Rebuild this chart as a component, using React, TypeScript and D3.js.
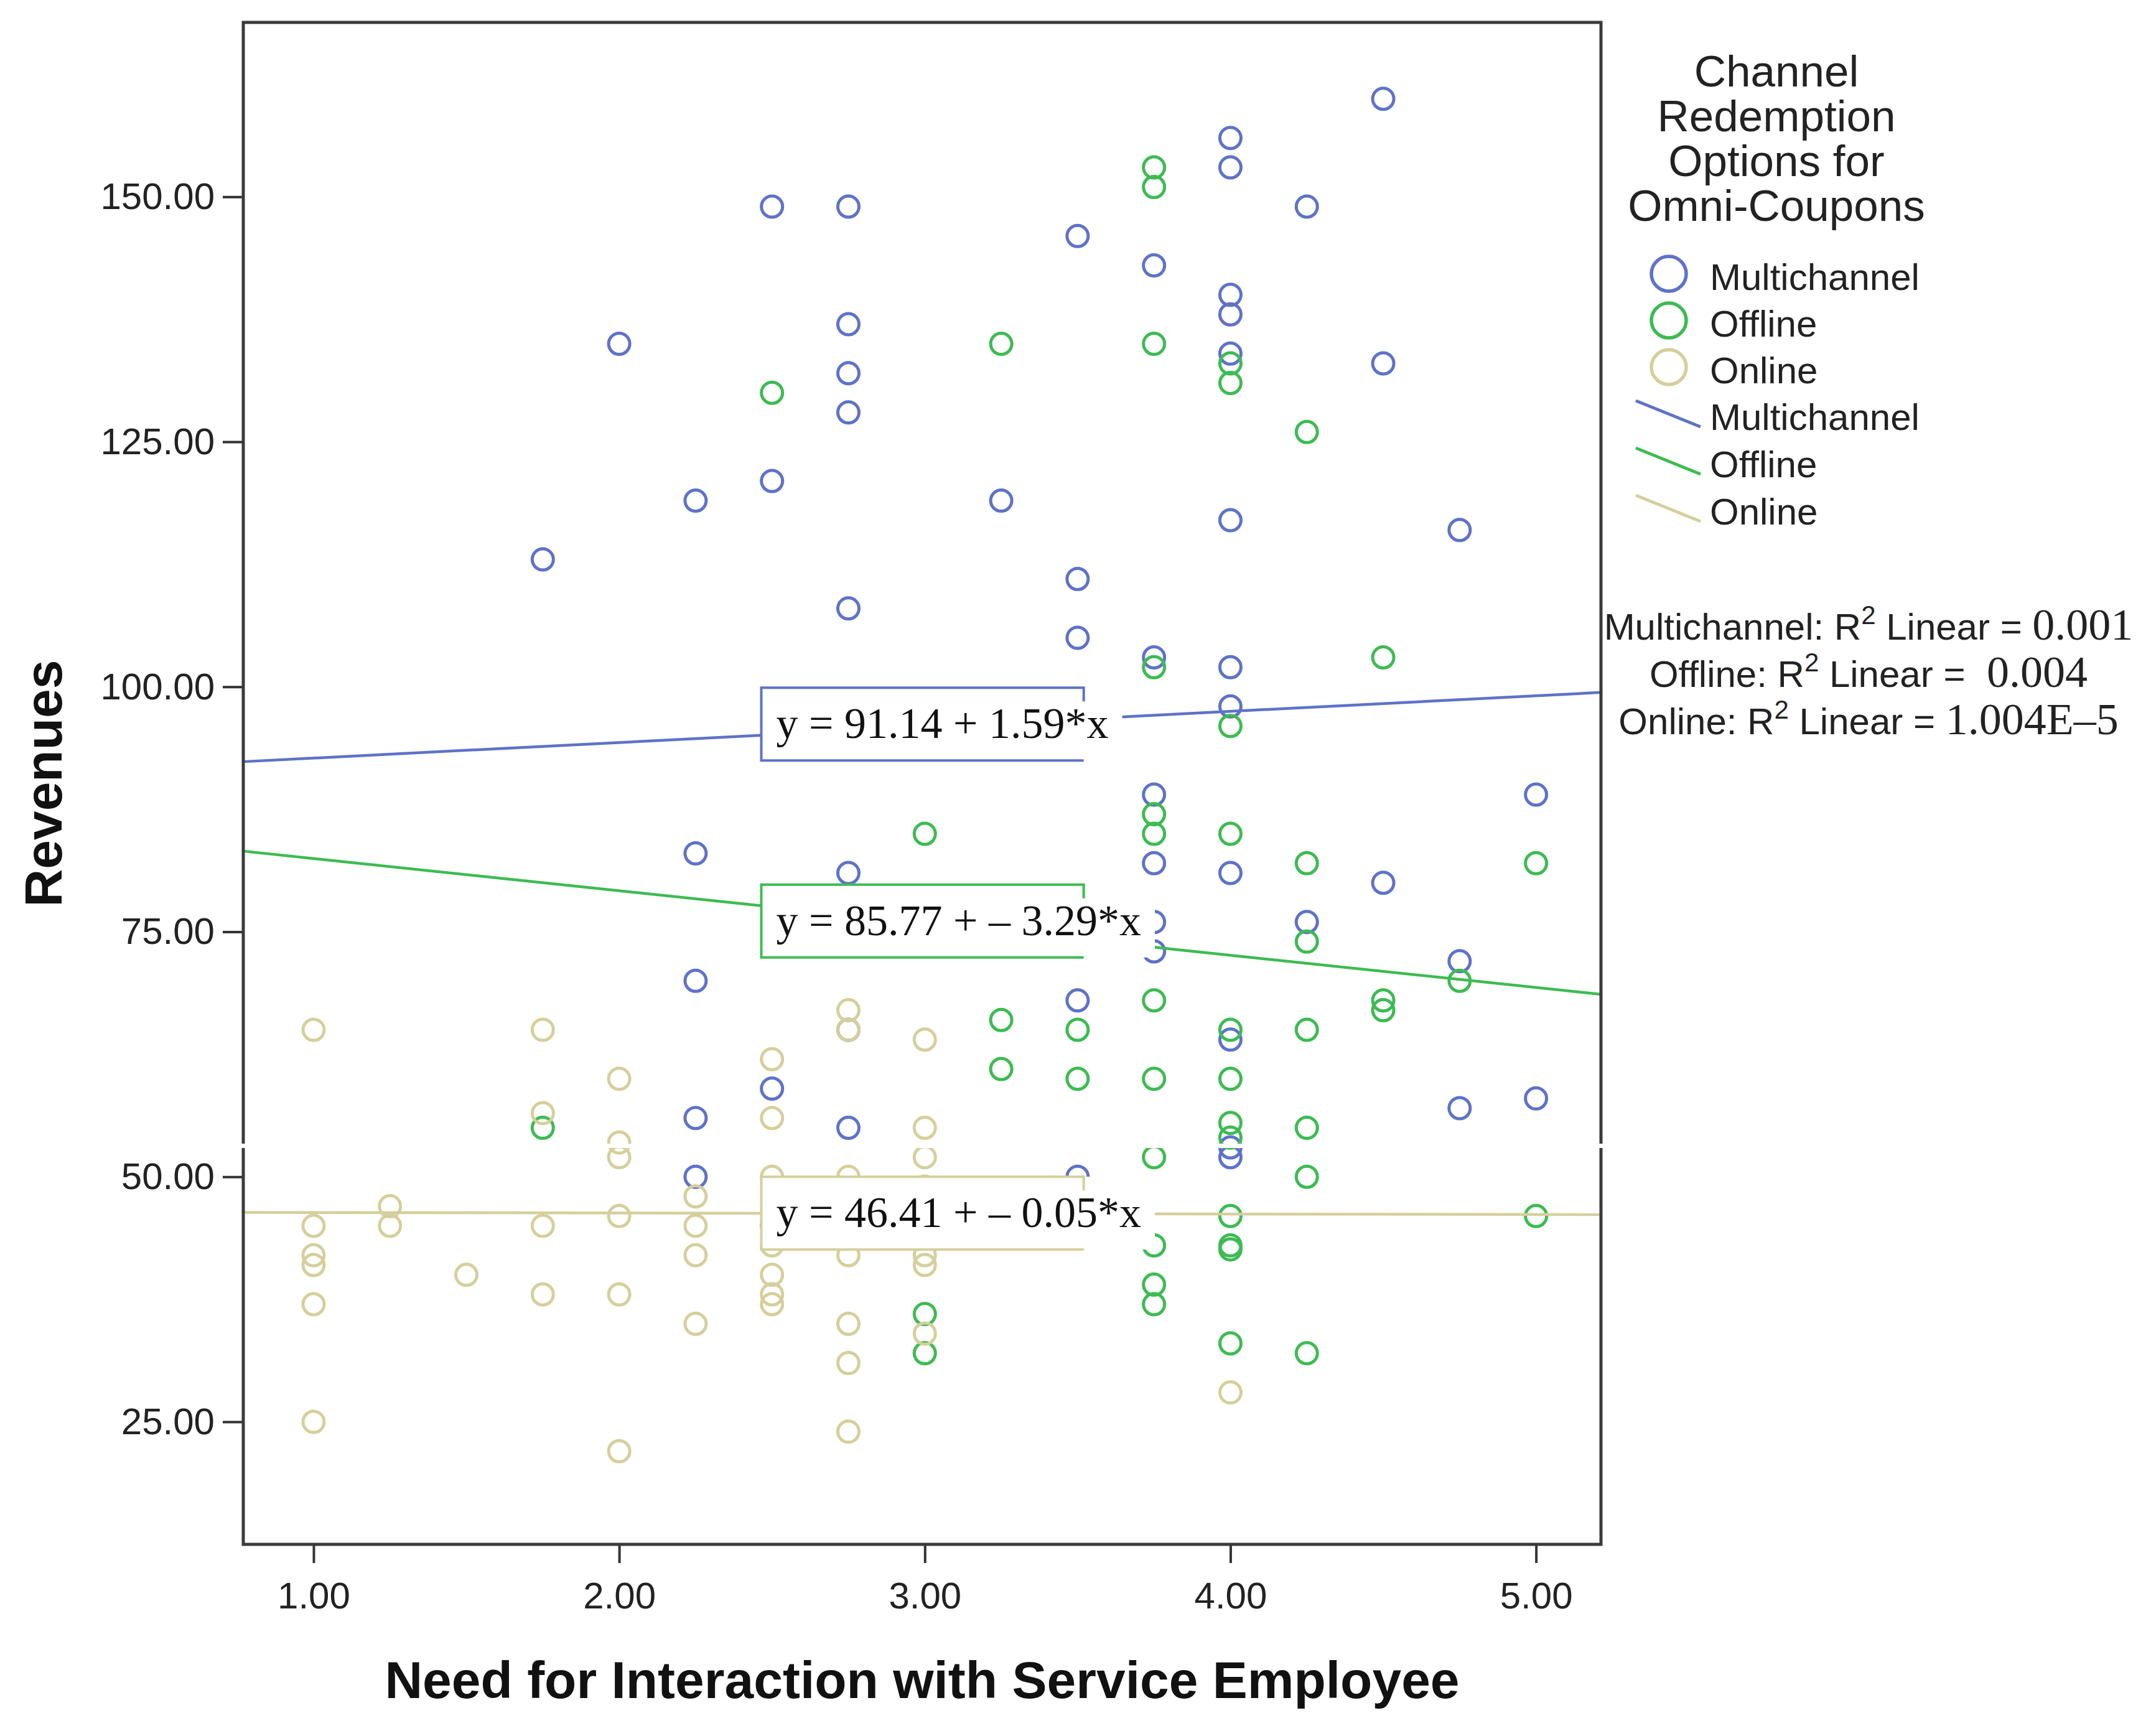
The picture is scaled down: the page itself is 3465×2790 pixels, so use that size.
import React, { useEffect, useRef } from 'react';
import * as d3 from 'd3';

const W = 3465;
const H = 2790;

// [need for interaction, revenues]
const multichannelPoints: [number, number][] = [
  [1.75, 113], [2.0, 135], [2.25, 119], [2.25, 83], [2.25, 70], [2.25, 56], [2.25, 50],
  [2.5, 149], [2.5, 121], [2.5, 59], [2.5, 45],
  [2.75, 149], [2.75, 137], [2.75, 132], [2.75, 128], [2.75, 108], [2.75, 81], [2.75, 65], [2.75, 55],
  [3.25, 119],
  [3.5, 146], [3.5, 111], [3.5, 105], [3.5, 68], [3.5, 50],
  [3.75, 143], [3.75, 103], [3.75, 89], [3.75, 82], [3.75, 76], [3.75, 73],
  [4.0, 156], [4.0, 153], [4.0, 140], [4.0, 138], [4.0, 134], [4.0, 117], [4.0, 102], [4.0, 98],
  [4.0, 81], [4.0, 64], [4.0, 53], [4.0, 52],
  [4.25, 149], [4.25, 76],
  [4.5, 160], [4.5, 133], [4.5, 80],
  [4.75, 116], [4.75, 72], [4.75, 57],
  [5.0, 89], [5.0, 58],
];

const offlinePoints: [number, number][] = [
  [1.75, 55], [2.5, 130],
  [3.0, 85], [3.0, 36], [3.0, 32],
  [3.25, 135], [3.25, 66], [3.25, 61],
  [3.5, 65], [3.5, 60],
  [3.75, 153], [3.75, 151], [3.75, 135], [3.75, 102], [3.75, 87], [3.75, 85], [3.75, 68],
  [3.75, 60], [3.75, 52], [3.75, 43], [3.75, 39], [3.75, 37],
  [4.0, 133], [4.0, 131], [4.0, 96], [4.0, 85], [4.0, 65], [4.0, 60], [4.0, 55.5], [4.0, 54],
  [4.0, 46], [4.0, 43], [4.0, 42.6], [4.0, 33],
  [4.25, 126], [4.25, 82], [4.25, 74], [4.25, 65], [4.25, 55], [4.25, 50], [4.25, 32],
  [4.5, 103], [4.5, 68], [4.5, 67],
  [4.75, 70],
  [5.0, 82], [5.0, 46],
];

const onlinePoints: [number, number][] = [
  [1.0, 65], [1.0, 45], [1.0, 42], [1.0, 41], [1.0, 37], [1.0, 25],
  [1.25, 47], [1.25, 45],
  [1.5, 40],
  [1.75, 65], [1.75, 56.5], [1.75, 45], [1.75, 38],
  [2.0, 60], [2.0, 53.5], [2.0, 52], [2.0, 46], [2.0, 38], [2.0, 22],
  [2.25, 48], [2.25, 45], [2.25, 42], [2.25, 35],
  [2.5, 62], [2.5, 56], [2.5, 50], [2.5, 43], [2.5, 40], [2.5, 38], [2.5, 37],
  [2.75, 67], [2.75, 65], [2.75, 50], [2.75, 42], [2.75, 35], [2.75, 31], [2.75, 24],
  [3.0, 64], [3.0, 55], [3.0, 52], [3.0, 49], [3.0, 42], [3.0, 41], [3.0, 34],
  [4.0, 28],
];

const seriesNames = ['Multichannel', 'Offline', 'Online'];
const seriesColors = ['#5e72c8', '#3dbb52', '#d5cf9c'];
const intercepts = [91.14, 85.77, 46.41];
const slopes = [1.59, -3.29, -0.05];
const fitLabels = ['y = 91.14 + 1.59*x', 'y = 85.77 + \u2013 3.29*x', 'y = 46.41 + \u2013 0.05*x'];
const fitLabelCenters = [96.2, 76.1, 46.3];
const rSquared = ['0.001', '\u00a00.004', '1.004E\u20135'];

const xTicks = [1, 2, 3, 4, 5];
const yTicks = [25, 50, 75, 100, 125, 150];
const legendTitle = ['Channel', 'Redemption', 'Options for', 'Omni-Coupons'];

const SANS = '"Liberation Sans", Arial, sans-serif';
const SERIF = '"Liberation Serif", "Times New Roman", serif';

export default function App() {
  const ref = useRef<SVGSVGElement>(null);

  useEffect(() => {
    if (!ref.current) return;
    document.body.style.margin = '0';
    const svg = d3.select(ref.current);
    svg.selectAll('*').remove();

    const frame = { left: 391, right: 2573, top: 36, bottom: 2482 };
    const x = d3.scaleLinear().domain([0.77, 5.2125]).range([frame.left, frame.right]);
    const y = d3.scaleLinear().domain([12.5, 167.8]).range([frame.bottom, frame.top]);

    svg.append('rect').attr('width', W).attr('height', H).attr('fill', '#fff');

    // y axis
    const yAxis = svg.append('g')
      .attr('transform', `translate(${frame.left},0)`)
      .call(d3.axisLeft(y).tickValues(yTicks).tickFormat(d3.format('.2f')).tickSize(33).tickPadding(13).tickSizeOuter(0));
    yAxis.select('.domain').remove();
    yAxis.selectAll('line').attr('stroke', '#333').attr('stroke-width', 4);
    yAxis.selectAll('text').attr('font-family', SANS).attr('font-size', 60).attr('fill', '#222');

    // x axis
    const xAxis = svg.append('g')
      .attr('transform', `translate(0,${frame.bottom})`)
      .call(d3.axisBottom(x).tickValues(xTicks).tickFormat(d3.format('.2f')).tickSize(30).tickPadding(30).tickSizeOuter(0));
    xAxis.select('.domain').remove();
    xAxis.selectAll('line').attr('stroke', '#333').attr('stroke-width', 4);
    xAxis.selectAll('text').attr('font-family', SANS).attr('font-size', 60).attr('fill', '#222');

    // points
    const allPoints = [multichannelPoints, offlinePoints, onlinePoints];
    allPoints.forEach((pts, i) => {
      svg.append('g').selectAll('circle')
        .data(pts)
        .enter()
        .append('circle')
        .attr('cx', d => x(d[0]))
        .attr('cy', d => y(d[1]))
        .attr('r', 17)
        .attr('fill', 'none')
        .attr('stroke', seriesColors[i])
        .attr('stroke-width', 5);
    });

    // fit lines
    const [x0, x1] = x.domain();
    const line = d3.line<[number, number]>().x(d => x(d[0])).y(d => y(d[1]));
    intercepts.forEach((b, i) => {
      svg.append('path')
        .attr('d', line([[x0, b + slopes[i] * x0], [x1, b + slopes[i] * x1]]))
        .attr('fill', 'none')
        .attr('stroke', seriesColors[i])
        .attr('stroke-width', 4.5);
    });

    // fit labels
    const boxLeft = x(2.465);
    const boxRight = x(3.52);
    const boxH = 117;
    fitLabels.forEach((label, i) => {
      const top = y(fitLabelCenters[i]) - boxH / 2;
      const g = svg.append('g');
      const bg = g.append('rect').attr('fill', '#fff');
      const t = g.append('text')
        .attr('x', boxLeft + 24)
        .attr('y', top + 81)
        .attr('font-family', SERIF)
        .attr('font-size', 70)
        .attr('fill', '#111')
        .text(label);
      const tw = (t.node() as SVGTextElement).getComputedTextLength();
      bg.attr('x', boxLeft).attr('y', top).attr('height', boxH)
        .attr('width', Math.max(boxRight - boxLeft, tw + 46));
      g.insert('path', 'text')
        .attr('d', `M${boxRight},${top + 22}V${top}H${boxLeft}V${top + boxH}H${boxRight}`)
        .attr('fill', 'none')
        .attr('stroke', seriesColors[i])
        .attr('stroke-width', 4);
    });

    // frame
    svg.append('rect')
      .attr('x', frame.left).attr('y', frame.top)
      .attr('width', frame.right - frame.left).attr('height', frame.bottom - frame.top)
      .attr('fill', 'none').attr('stroke', '#3a3a3a').attr('stroke-width', 5);

    // scan seam in the source picture
    svg.append('rect')
      .attr('x', frame.left - 20).attr('y', 1838)
      .attr('width', frame.right - frame.left + 30).attr('height', 7)
      .attr('fill', '#fff');

    // axis titles
    svg.append('text')
      .attr('x', (frame.left + frame.right) / 2)
      .attr('y', 2729)
      .attr('text-anchor', 'middle')
      .attr('font-family', SANS).attr('font-weight', 'bold').attr('font-size', 84).attr('fill', '#111')
      .text('Need for Interaction with Service Employee');
    svg.append('text')
      .attr('transform', `translate(99,${(frame.top + frame.bottom) / 2}) rotate(-90)`)
      .attr('text-anchor', 'middle')
      .attr('font-family', SANS).attr('font-weight', 'bold').attr('font-size', 84).attr('fill', '#111')
      .text('Revenues');

    // legend
    const lg = svg.append('g').attr('font-family', SANS).attr('fill', '#222');
    legendTitle.forEach((s, i) => {
      lg.append('text')
        .attr('x', 2855).attr('y', 139 + i * 72)
        .attr('text-anchor', 'middle').attr('font-size', 71)
        .text(s);
    });
    seriesNames.forEach((name, i) => {
      lg.append('circle')
        .attr('cx', 2682).attr('cy', 440 + i * 75).attr('r', 28)
        .attr('fill', 'none').attr('stroke', seriesColors[i]).attr('stroke-width', 5.5);
      lg.append('text')
        .attr('x', 2748).attr('y', 466 + i * 75).attr('font-size', 60)
        .text(name);
    });
    seriesNames.forEach((name, i) => {
      const cy = 665 + i * 76;
      lg.append('line')
        .attr('x1', 2629).attr('y1', cy - 21).attr('x2', 2733).attr('y2', cy + 21)
        .attr('stroke', seriesColors[i]).attr('stroke-width', 5);
      lg.append('text')
        .attr('x', 2748).attr('y', 691 + i * 76).attr('font-size', 60)
        .text(name);
    });

    // R squared notes
    seriesNames.forEach((name, i) => {
      const t = lg.append('text')
        .attr('x', 3003).attr('y', 1028 + i * 76)
        .attr('text-anchor', 'middle').attr('font-size', 60);
      t.append('tspan').text(`${name}: R`);
      t.append('tspan').attr('font-size', 42).attr('dy', -25).text('2');
      t.append('tspan').attr('dy', 25).text(' Linear = ');
      t.append('tspan').attr('font-family', SERIF).attr('font-size', 72).text(rSquared[i]);
    });
  }, []);

  return <svg ref={ref} width={W} height={H} style={{ display: 'block' }} />;
}
